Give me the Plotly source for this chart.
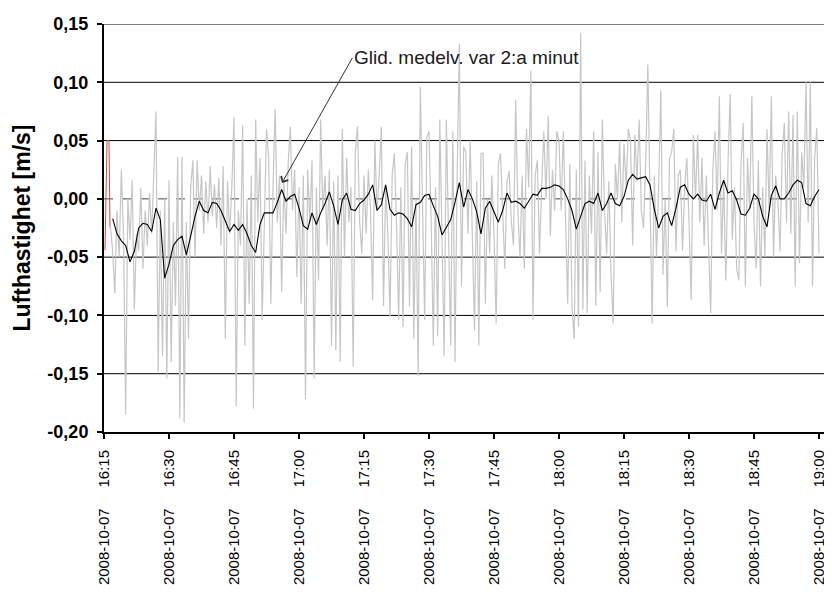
import pandas as pd
import plotly.graph_objects as go

# raw air speed, one reading every 30 s from 16:16:30 (m/s)
grey_start = "2008-10-07 16:16:30"
grey_vals = [
    -0.024, -0.045, -0.081, -0.010, -0.050, 0.025, -0.030, -0.185, 0.000, -0.035,
    0.016, -0.095, -0.030, -0.045, 0.009, -0.060, -0.010, -0.040, 0.005, -0.030,
    0.023, 0.075, -0.148, -0.010, -0.135, 0.000, -0.154, 0.016, -0.140, -0.020,
    -0.092, 0.036, -0.188, 0.036, -0.192, -0.020, -0.120, 0.010, 0.033, -0.050,
    0.033, -0.010, 0.020, -0.030, 0.015, -0.020, 0.028, -0.015, 0.012, -0.025,
    0.018, -0.040, 0.028, -0.120, 0.015, -0.030, 0.010, 0.070, -0.178, -0.010,
    -0.040, 0.063, -0.126, 0.000, -0.090, 0.020, -0.180, 0.068, -0.020, 0.035,
    -0.104, -0.010, 0.060, 0.035, -0.090, 0.010, 0.077, -0.020, 0.020, -0.080,
    0.015, -0.030, 0.030, 0.062, -0.010, 0.025, -0.067, 0.010, -0.090, 0.020,
    -0.172, 0.025, -0.020, 0.033, -0.154, 0.010, -0.070, 0.068, -0.010, 0.020,
    -0.040, 0.025, -0.126, 0.015, -0.130, 0.020, -0.140, 0.060, -0.050, 0.035,
    -0.020, 0.010, -0.144, 0.040, 0.062, -0.020, -0.047, 0.020, -0.030, 0.025,
    -0.010, -0.087, 0.050, -0.010, 0.020, 0.062, -0.092, 0.010, -0.030, -0.101,
    0.020, 0.039, -0.020, -0.104, 0.010, -0.110, 0.030, 0.040, -0.092, 0.045,
    -0.120, 0.000, -0.152, 0.096, -0.010, -0.104, 0.053, 0.058, -0.020, -0.126,
    0.010, -0.118, 0.068, -0.020, -0.135, 0.068, -0.020, -0.126, 0.058, -0.140,
    0.020, 0.133, -0.075, 0.045, 0.040, -0.030, 0.050, -0.040, -0.113, 0.015,
    -0.126, 0.039, 0.039, -0.090, 0.000, -0.047, 0.020, -0.030, -0.107, 0.030,
    0.039, -0.010, -0.060, 0.015, 0.024, -0.020, -0.040, 0.085, -0.010, -0.050,
    0.020, -0.060, 0.060, 0.010, 0.110, -0.104, 0.020, 0.033, -0.047, 0.010,
    0.058, 0.000, 0.071, -0.032, 0.025, -0.010, 0.058, 0.050, -0.010, 0.058,
    -0.020, -0.090, 0.030, -0.092, -0.120, 0.025, -0.110, 0.142, -0.095, 0.033,
    -0.098, 0.020, -0.030, 0.058, -0.092, 0.040, -0.080, 0.068, -0.010, -0.047,
    0.015, -0.065, -0.107, 0.030, 0.000, 0.050, -0.020, 0.047, 0.010, 0.060,
    0.050, -0.040, 0.055, 0.015, 0.068, -0.010, -0.025, 0.030, 0.115, -0.010,
    -0.107, 0.020, -0.050, 0.010, 0.093, -0.065, 0.000, -0.093, 0.035, 0.040,
    0.060, -0.045, 0.020, 0.025, -0.045, 0.010, 0.035, -0.020, -0.087, 0.055,
    0.000, 0.055, -0.020, 0.035, -0.040, 0.020, -0.040, -0.098, 0.025, 0.058,
    -0.010, 0.088, -0.047, 0.015, -0.070, 0.030, 0.090, -0.035, 0.010, -0.060,
    -0.070, 0.030, 0.065, -0.075, 0.035, -0.010, 0.088, -0.020, -0.060, 0.033,
    -0.075, 0.010, -0.050, 0.060, -0.010, 0.088, -0.050, 0.020, 0.000, -0.045,
    0.039, 0.065, -0.020, 0.075, -0.030, 0.072, -0.075, 0.075, -0.055, 0.040,
    0.010, 0.100, -0.020, 0.100, -0.075, 0.035, 0.061, -0.047,
]

# moving average, one value per minute from 16:17
black_start = "2008-10-07 16:17:00"
black_vals = [
    -0.017, -0.030, -0.036, -0.040, -0.054, -0.045, -0.025, -0.021, -0.022, -0.028,
    -0.008, -0.018, -0.068, -0.056, -0.040, -0.035, -0.032, -0.048, -0.032, -0.015,
    -0.002, -0.010, -0.012, -0.003, -0.004, -0.010, -0.019, -0.028, -0.022, -0.027,
    -0.022, -0.030, -0.040, -0.046, -0.022, -0.012, -0.012, -0.012, -0.003, 0.008,
    -0.002, 0.002, 0.004, -0.008, -0.023, -0.026, -0.012, -0.022, -0.012, -0.004,
    0.006, -0.006, -0.022, -0.001, 0.005, -0.009, -0.010, -0.004, -0.001, 0.004,
    0.012, -0.010, -0.005, 0.012, -0.009, -0.014, -0.012, -0.013, -0.017, -0.024,
    -0.005, -0.003, 0.003, 0.004, -0.006, -0.015, -0.031, -0.025, -0.018, -0.003,
    0.014, -0.007, 0.008, 0.000, -0.011, -0.030, -0.008, -0.002, -0.011, -0.020,
    -0.010, 0.005, -0.003, -0.002, -0.004, -0.008, -0.002, 0.004, 0.003, 0.009,
    0.009, 0.010, 0.012, 0.011, 0.008, 0.000, -0.010, -0.026, -0.015, -0.004,
    -0.002, -0.004, 0.005, -0.010, -0.004, 0.005, -0.004, -0.006, 0.002, 0.016,
    0.021, 0.017, 0.018, 0.019, 0.012, -0.009, -0.025, -0.015, -0.012, -0.023,
    -0.008, 0.010, 0.012, 0.004, 0.000, 0.004, -0.001, -0.002, 0.004, -0.009,
    0.005, 0.016, 0.005, 0.007, -0.001, -0.013, -0.014, -0.008, 0.004, 0.000,
    -0.015, -0.024, 0.003, 0.011, 0.000, 0.000, 0.005, 0.012, 0.016, 0.014,
    -0.004, -0.006, 0.002, 0.008,
]

# short red piece at the very start
red_times = ["2008-10-07 16:15:14", "2008-10-07 16:15:28", "2008-10-07 16:15:42",
             "2008-10-07 16:16:09", "2008-10-07 16:16:23"]
red_vals = [-0.044, 0.018, 0.050, 0.050, -0.024]

x_ticks = pd.date_range("2008-10-07 16:15", "2008-10-07 19:00", freq="15min")
gap = "\u00a0" * 5
x_ticktext = [t.strftime("%Y-%m-%d") + gap + t.strftime("%H:%M") for t in x_ticks]
y_ticks = [-0.20, -0.15, -0.10, -0.05, 0.00, 0.05, 0.10, 0.15]
y_ticktext = ["-0,20", "-0,15", "-0,10", "-0,05", "0,00", "0,05", "0,10", "0,15"]

grey_t = pd.date_range(grey_start, periods=len(grey_vals), freq="30s")
black_t = pd.date_range(black_start, periods=len(black_vals), freq="60s")

fig = go.Figure()
fig.add_trace(go.Scatter(x=grey_t, y=grey_vals, mode="lines",
                         line=dict(color="#c6c6c6", width=1.2)))
fig.add_trace(go.Scatter(x=red_times, y=red_vals, mode="lines",
                         line=dict(color="#c0504d", width=1)))
fig.add_trace(go.Scatter(x=black_t, y=black_vals, mode="lines",
                         line=dict(color="black", width=1.1)))

# horizontal grid, zero line dashed
for v in y_ticks[1:]:
    fig.add_shape(type="line", xref="paper", x0=0, x1=1, yref="y", y0=v, y1=v,
                  layer="below",
                  line=dict(color="#444" if v == 0 else "black", width=1,
                            dash="dash" if v == 0 else "solid"))

fig.add_annotation(x="2008-10-07 16:56:05", y=0.0137,
                   ax="2008-10-07 17:12:20", ay=0.121, axref="x", ayref="y",
                   text="Glid. medelv. var 2:a minut", xanchor="left",
                   showarrow=True, arrowhead=4, arrowsize=1.6, arrowwidth=1,
                   arrowcolor="#333", standoff=0,
                   font=dict(family="Liberation Sans", size=19, color="#1a1a1a"))

# page body has an 8px margin, so the figure is 8px smaller than the window
fig.update_layout(
    width=824, height=590,
    margin=dict(l=96, r=0, t=16, b=166),
    paper_bgcolor="white", plot_bgcolor="white",
    showlegend=False,
    font=dict(family="Liberation Sans", color="black"),
)
fig.update_xaxes(type="date", range=["2008-10-07 16:15", "2008-10-07 19:03"],
                 tickvals=x_ticks, ticktext=x_ticktext, tickangle=-90,
                 tickfont=dict(size=15), showgrid=False, zeroline=False,
                 showline=True, linecolor="black", linewidth=2,
                 ticks="outside", ticklen=5, tickwidth=2, tickcolor="black",
                 ticklabelstandoff=5, automargin=False)
fig.update_yaxes(range=[-0.20, 0.15], tickvals=y_ticks, ticktext=y_ticktext,
                 tickfont=dict(size=18, family="Liberation Sans", weight="bold"),
                 showgrid=False, zeroline=False,
                 showline=True, linecolor="black", linewidth=2,
                 ticks="outside", ticklen=5, tickwidth=2, tickcolor="black",
                 ticklabelstandoff=5, automargin=False,
                 title=dict(text="<b>Lufthastighet [m/s]</b>",
                            font=dict(size=23), standoff=10))

fig.write_html("out.html")
